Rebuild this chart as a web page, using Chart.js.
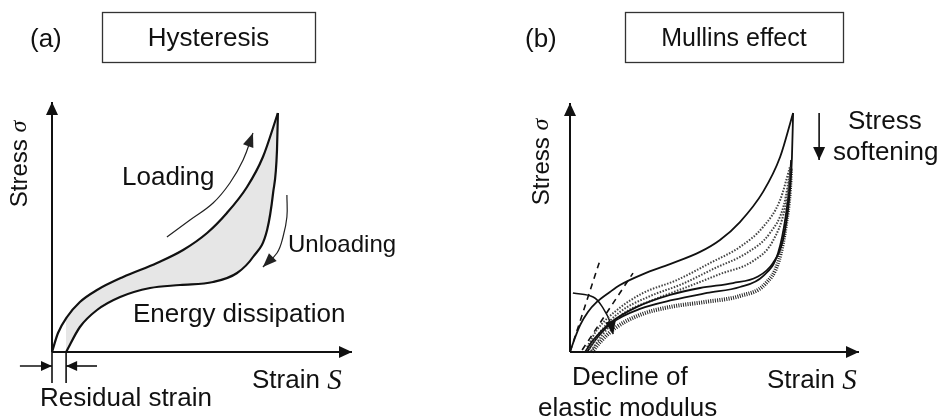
<!DOCTYPE html>
<html>
<head>
<meta charset="utf-8">
<script src="https://cdn.jsdelivr.net/npm/chart.js@4.4.1/dist/chart.umd.min.js"></script>
<style>
  html, body { margin: 0; padding: 0; background: #fff; }
  #wrap { position: relative; width: 940px; height: 419px; }
  canvas { position: absolute; top: 0; }
</style>
</head>
<body>
<div id="wrap">
  <canvas id="panelA" width="470" height="419" style="left:0"></canvas>
  <canvas id="panelB" width="470" height="419" style="left:470px"></canvas>
</div>
<script>
// Strain / stress pairs, both normalised to the length of the drawn axis (0..1)

// (a) hysteresis loop
const loadingA   = [[0,0],[0.02,0.076],[0.05,0.14],[0.093,0.2],[0.15,0.248],[0.237,0.3],[0.35,0.356],
                    [0.437,0.408],[0.517,0.476],[0.583,0.556],[0.65,0.66],[0.703,0.78],[0.753,0.956]];
const unloadingA = [[0.047,0],[0.093,0.1],[0.15,0.168],[0.227,0.22],[0.327,0.256],[0.427,0.268],[0.537,0.28],
                    [0.617,0.316],[0.67,0.38],[0.717,0.488],[0.737,0.636],[0.75,0.808],[0.753,0.956]];
const loadArrowA   = [[0.383,0.46],[0.46,0.528],[0.537,0.596],[0.593,0.676],[0.637,0.768],[0.67,0.876]];
const unloadArrowA = [[0.783,0.628],[0.783,0.54],[0.77,0.46],[0.75,0.396],[0.703,0.34]];
const residualMarks = [[[0,0],[0,-0.124]], [[0.047,0],[0.047,-0.124]]];
const residualArrows = [[[-0.107,-0.056],[0,-0.056]], [[0.15,-0.056],[0.047,-0.056]]];

// (b) Mullins effect: virgin loading, unloading and softened reloading curves
const virginB   = [[0,0],[0.017,0.056],[0.035,0.108],[0.062,0.161],[0.093,0.201],[0.138,0.241],[0.173,0.269],
                   [0.253,0.313],[0.346,0.353],[0.45,0.402],[0.519,0.45],[0.588,0.522],[0.668,0.643],[0.727,0.783],[0.772,0.96]];
const unloadB   = [[0.052,0],[0.08,0.048],[0.138,0.116],[0.232,0.181],[0.346,0.229],[0.45,0.257],[0.564,0.277],
                   [0.647,0.301],[0.702,0.357],[0.737,0.45],[0.758,0.61],[0.768,0.783],[0.772,0.96]];
const dottedB1  = [[0.059,0.02],[0.093,0.088],[0.163,0.169],[0.253,0.237],[0.37,0.289],[0.484,0.357],[0.588,0.422],
                   [0.668,0.502],[0.727,0.61],[0.761,0.743]];
const dottedB2  = [[0.066,0.012],[0.104,0.08],[0.173,0.161],[0.27,0.221],[0.388,0.273],[0.502,0.337],[0.612,0.398],
                   [0.692,0.478],[0.74,0.59],[0.765,0.747]];
const dottedB3  = [[0.073,0.004],[0.114,0.072],[0.183,0.153],[0.287,0.209],[0.405,0.261],[0.519,0.313],[0.633,0.365],
                   [0.702,0.446],[0.744,0.578],[0.765,0.731]];
const reloadB   = [[0.059,0],[0.093,0.056],[0.149,0.12],[0.242,0.173],[0.356,0.209],[0.474,0.237],[0.588,0.261],
                   [0.668,0.305],[0.72,0.398],[0.747,0.55],[0.761,0.691],[0.765,0.771]];
const hatchedB  = [[0.076,0],[0.104,0.04],[0.156,0.096],[0.242,0.149],[0.346,0.181],[0.467,0.201],[0.588,0.225],
                   [0.675,0.273],[0.723,0.369],[0.747,0.51],[0.761,0.651],[0.765,0.739]];
const tangentB  = [[[0,0],[0.104,0.369]], [[0.042,0.008],[0.218,0.317]]];
const modulusArrowB   = [[0.01,0.237],[0.08,0.221],[0.114,0.177],[0.142,0.112],[0.149,0.072]];
const softeningArrowB = [[0.862,0.96],[0.862,0.771]];

const axisY = [[0,0],[0,1]];
const axisX = [[0,0],[1,0]];

const SANS = '"Liberation Sans", Arial, sans-serif';
const SERIF = '"Liberation Serif", "Times New Roman", serif';

const pts = arr => arr.map(([x, y]) => ({ x, y }));

function line(data, extra) {
  return Object.assign({
    data: pts(data),
    borderColor: '#111',
    borderWidth: 2,
    pointRadius: 0,
    tension: 0.4,
    fill: false,
    clip: false
  }, extra || {});
}

const smooth = { cubicInterpolationMode: 'monotone' };
const head = (length, width) => ({ arrowHead: { length, width } });

// Triangular heads on datasets that carry an arrowHead setting
const arrowHeads = {
  id: 'arrowHeads',
  afterDatasetsDraw(chart) {
    const ctx = chart.ctx;
    chart.data.datasets.forEach((ds, i) => {
      if (!ds.arrowHead) return;
      const el = chart.getDatasetMeta(i).data;
      const tip = el[el.length - 1];
      let bx = tip.cp1x, by = tip.cp1y;
      if (bx === undefined || Math.hypot(tip.x - bx, tip.y - by) < 0.5) {
        bx = el[el.length - 2].x;
        by = el[el.length - 2].y;
      }
      const a = Math.atan2(tip.y - by, tip.x - bx);
      const len = ds.arrowHead.length, half = ds.arrowHead.width / 2;
      const cx = tip.x - len * Math.cos(a), cy = tip.y - len * Math.sin(a);
      ctx.save();
      ctx.fillStyle = ds.borderColor;
      ctx.beginPath();
      ctx.moveTo(tip.x, tip.y);
      ctx.lineTo(cx + half * Math.sin(a), cy - half * Math.cos(a));
      ctx.lineTo(cx - half * Math.sin(a), cy + half * Math.cos(a));
      ctx.closePath();
      ctx.fill();
      ctx.restore();
    });
  }
};

// Panel captions, boxed titles and axis names
function textLayer(items, boxes) {
  return {
    id: 'textLayer',
    afterDraw(chart) {
      const ctx = chart.ctx;
      ctx.save();
      ctx.strokeStyle = '#333';
      ctx.lineWidth = 1.3;
      boxes.forEach(b => ctx.strokeRect(b.x + 0.5, b.y + 0.5, b.w, b.h));
      ctx.fillStyle = '#111';
      ctx.textBaseline = 'middle';
      ctx.textAlign = 'left';
      items.forEach(it => {
        const parts = it.parts || [{ text: it.text }];
        const fonts = parts.map(p => (p.italic ? 'italic ' : '') + (p.size || it.size) + 'px ' + (p.serif ? SERIF : SANS));
        const widths = parts.map((p, k) => { ctx.font = fonts[k]; return ctx.measureText(p.text).width; });
        const total = widths.reduce((s, w) => s + w, 0);
        ctx.save();
        ctx.translate(it.x, it.y);
        if (it.rotate) ctx.rotate(it.rotate);
        let x = it.align === 'center' ? -total / 2 : 0;
        parts.forEach((p, k) => {
          ctx.font = fonts[k];
          ctx.fillText(p.text, x, 0);
          x += widths[k];
        });
        ctx.restore();
      });
      ctx.restore();
    }
  };
}

function makePanel(id, padding, datasets, items, boxes) {
  return new Chart(document.getElementById(id), {
    type: 'line',
    data: { datasets },
    options: {
      responsive: false,
      animation: false,
      events: [],
      layout: { padding },
      scales: {
        x: { type: 'linear', min: 0, max: 1, display: false },
        y: { type: 'linear', min: 0, max: 1, display: false }
      },
      plugins: {
        legend: { display: false },
        tooltip: { enabled: false },
        filler: { drawTime: 'beforeDatasetsDraw' }
      }
    },
    plugins: [arrowHeads, textLayer(items, boxes)]
  });
}

makePanel('panelA', { left: 52, right: 118, top: 102, bottom: 67 }, [
  line(axisY, Object.assign({ tension: 0 }, head(13, 12))),
  line(axisX, Object.assign({ tension: 0 }, head(13, 12))),
  line(loadingA, Object.assign({ borderWidth: 2.2, fill: '+1', backgroundColor: '#e6e6e6' }, smooth)),
  line(unloadingA, Object.assign({ borderWidth: 2.2 }, smooth)),
  line(loadArrowA, Object.assign({ borderWidth: 1.2, borderColor: '#222' }, head(14, 11))),
  line(unloadArrowA, Object.assign({ borderWidth: 1.2, borderColor: '#222' }, head(14, 11))),
  line(residualMarks[0], { tension: 0, borderWidth: 1.6 }),
  line(residualMarks[1], { tension: 0, borderWidth: 1.6 }),
  line(residualArrows[0], Object.assign({ tension: 0, borderWidth: 1.6 }, head(11, 10))),
  line(residualArrows[1], Object.assign({ tension: 0, borderWidth: 1.6 }, head(11, 10)))
], [
  { text: '(a)', x: 30, y: 40, size: 26 },
  { text: 'Hysteresis', x: 208.5, y: 39, size: 26, align: 'center' },
  { parts: [{ text: 'Stress ' }, { text: 'σ', serif: true, italic: true }], x: 20, y: 164, size: 24, align: 'center', rotate: -Math.PI / 2 },
  { text: 'Loading', x: 122, y: 178, size: 26 },
  { text: 'Unloading', x: 288, y: 245, size: 24 },
  { text: 'Energy dissipation', x: 133, y: 315, size: 26 },
  { text: 'Residual strain', x: 40, y: 399, size: 26 },
  { parts: [{ text: 'Strain ' }, { text: 'S', serif: true, italic: true, size: 29 }], x: 252, y: 381, size: 26 }
], [
  { x: 102, y: 12, w: 213, h: 50 }
]);

makePanel('panelB', { left: 100, right: 81, top: 103, bottom: 67 }, [
  line(axisY, Object.assign({ tension: 0 }, head(13, 12))),
  line(axisX, Object.assign({ tension: 0 }, head(13, 12))),
  line(virginB, Object.assign({ borderWidth: 1.8 }, smooth)),
  line(unloadB, Object.assign({ borderWidth: 1.8 }, smooth)),
  line(dottedB1, Object.assign({ borderWidth: 2, borderColor: '#444', borderDash: [1.5, 1.5] }, smooth)),
  line(dottedB2, Object.assign({ borderWidth: 2, borderColor: '#444', borderDash: [1.5, 1.5] }, smooth)),
  line(dottedB3, Object.assign({ borderWidth: 2, borderColor: '#444', borderDash: [1.5, 1.5] }, smooth)),
  line(reloadB, Object.assign({ borderWidth: 1.8 }, smooth)),
  line(hatchedB, Object.assign({ borderWidth: 4, borderColor: '#222', borderDash: [1, 1.3] }, smooth)),
  line(tangentB[0], { tension: 0, borderWidth: 1.6, borderDash: [6, 5] }),
  line(tangentB[1], { tension: 0, borderWidth: 1.6, borderDash: [6, 5] }),
  line(modulusArrowB, Object.assign({ borderWidth: 1.5 }, head(13, 11))),
  line(softeningArrowB, Object.assign({ tension: 0, borderWidth: 1.6 }, head(13, 12)))
], [
  { text: '(b)', x: 55, y: 40, size: 26 },
  { text: 'Mullins effect', x: 264, y: 39, size: 25, align: 'center' },
  { parts: [{ text: 'Stress ' }, { text: 'σ', serif: true, italic: true }], x: 72, y: 162, size: 24, align: 'center', rotate: -Math.PI / 2 },
  { text: 'Stress', x: 378, y: 122, size: 26 },
  { text: 'softening', x: 363, y: 153, size: 26 },
  { text: 'Decline of', x: 102, y: 378, size: 26 },
  { text: 'elastic modulus', x: 68, y: 409, size: 26 },
  { parts: [{ text: 'Strain ' }, { text: 'S', serif: true, italic: true, size: 29 }], x: 297, y: 381, size: 26 }
], [
  { x: 155, y: 12, w: 218, h: 50 }
]);
</script>
</body>
</html>
